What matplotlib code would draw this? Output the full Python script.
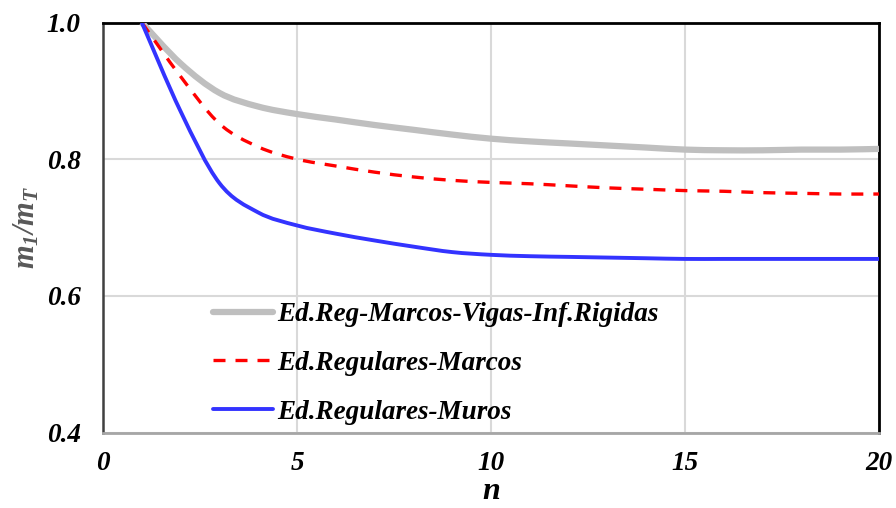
import matplotlib
matplotlib.use("Agg")
import matplotlib.pyplot as plt
from matplotlib.path import Path
from matplotlib.patches import PathPatch
from matplotlib.lines import Line2D
import numpy as np

# ---- data ----
n = [1, 2, 3, 4, 5, 6, 7, 8, 9, 10, 11, 12, 13, 14, 15, 16, 17, 18, 19, 20]
rigidas = [1.000, 0.940, 0.897, 0.877, 0.866, 0.858, 0.850, 0.843, 0.836, 0.830,
           0.826, 0.823, 0.820, 0.817, 0.814, 0.813, 0.813, 0.814, 0.814, 0.815]
marcos = [1.000, 0.921, 0.852, 0.818, 0.800, 0.790, 0.781, 0.774, 0.769, 0.766,
          0.764, 0.761, 0.758, 0.756, 0.754, 0.753, 0.751, 0.750, 0.749, 0.749]
muros = [1.000, 0.870, 0.765, 0.722, 0.703, 0.691, 0.681, 0.672, 0.664, 0.660,
         0.658, 0.657, 0.656, 0.655, 0.654, 0.654, 0.654, 0.654, 0.654, 0.654]
labels = ["Ed.Reg-Marcos-Vigas-Inf.Rigidas", "Ed.Regulares-Marcos", "Ed.Regulares-Muros"]
xticks = [0, 5, 10, 15, 20]
yticks = [0.4, 0.6, 0.8, 1.0]

plt.rcParams['font.family'] = ['Liberation Serif', 'DejaVu Serif']
plt.rcParams['mathtext.fontset'] = 'custom'
plt.rcParams['mathtext.it'] = 'Liberation Serif:italic:bold'
plt.rcParams['mathtext.rm'] = 'Liberation Serif:italic:bold'
plt.rcParams['mathtext.bf'] = 'Liberation Serif:italic:bold'

fig = plt.figure(figsize=(8.96, 5.08), dpi=100)
ax = fig.add_axes([103/896, 1-432.5/508, 776/896, 410/508])


def smooth_path(x, y):
    """Excel-like smoothed line: cubic Bezier segments through the data points."""
    x = np.asarray(x, float)
    y = np.asarray(y, float)
    pts = np.column_stack([x, y])
    verts = [pts[0]]
    codes = [Path.MOVETO]
    m = len(pts)
    for i in range(m - 1):
        p0 = pts[i - 1] if i > 0 else pts[i]
        p1 = pts[i]
        p2 = pts[i + 1]
        p3 = pts[i + 2] if i + 2 < m else pts[i + 1]
        c1 = p1 + (p2 - p0) / 6.0
        c2 = p2 - (p3 - p1) / 6.0
        verts += [c1, c2, p2]
        codes += [Path.CURVE4] * 3
    return Path(verts, codes)


styles = [
    dict(color='#bfbfbf', lw=4.5, ls='-'),
    dict(color='#ff0000', lw=2.4, ls=(0, (3.6, 3.0))),
    dict(color='#3333ff', lw=2.8, ls='-'),
]
series = [rigidas, marcos, muros]

handles = []
for vals, st, lab in zip(series, styles, labels):
    patch = PathPatch(smooth_path(n, vals), facecolor='none', edgecolor=st['color'],
                      lw=st['lw'], ls=st['ls'], capstyle='butt', joinstyle='round',
                      zorder=3)
    ax.add_patch(patch)
    handles.append(Line2D([], [], color=st['color'], lw=st['lw'], ls=st['ls'],
                          solid_capstyle='round', label=lab))

ax.set_xlim(0, 20)
ax.set_ylim(0.4, 1.0)
ax.set_xticks(xticks)
ax.set_yticks(yticks)
ax.set_xticklabels([str(v) for v in xticks])
ax.set_yticklabels([f"{v:.1f}" for v in yticks])
ax.tick_params(length=0, labelsize=19.5)
ax.tick_params(axis='x', pad=13)
ax.tick_params(axis='y', pad=16)
for t in ax.get_xticklabels() + ax.get_yticklabels():
    t.set_fontweight('bold')
    t.set_fontstyle('italic')

ax.grid(True, color='#d9d9d9', lw=1.5, zorder=0)
ax.set_axisbelow(True)

ax.spines['top'].set_color('black')
ax.spines['top'].set_linewidth(2)
ax.spines['right'].set_color('black')
ax.spines['right'].set_linewidth(2)
ax.spines['left'].set_color('#404040')
ax.spines['left'].set_linewidth(1.8)
ax.spines['bottom'].set_color('#a6a6a6')
ax.spines['bottom'].set_linewidth(2)

ax.set_xlabel('n', fontsize=23, fontweight='bold', fontstyle='italic', labelpad=1)
ax.set_ylabel(r'$m_1/m_T$', fontsize=22, color='#595959', labelpad=4)

leg = ax.legend(handles=handles, loc='upper left',
                bbox_to_anchor=((213-103)/776, (432.5-302)/410),
                frameon=False, handlelength=2.2, handletextpad=0.18,
                labelspacing=0.88, borderpad=0, borderaxespad=0,
                prop=dict(family='Liberation Serif', weight='bold', style='italic', size=19.5))

fig.savefig('out.png', dpi=100)
